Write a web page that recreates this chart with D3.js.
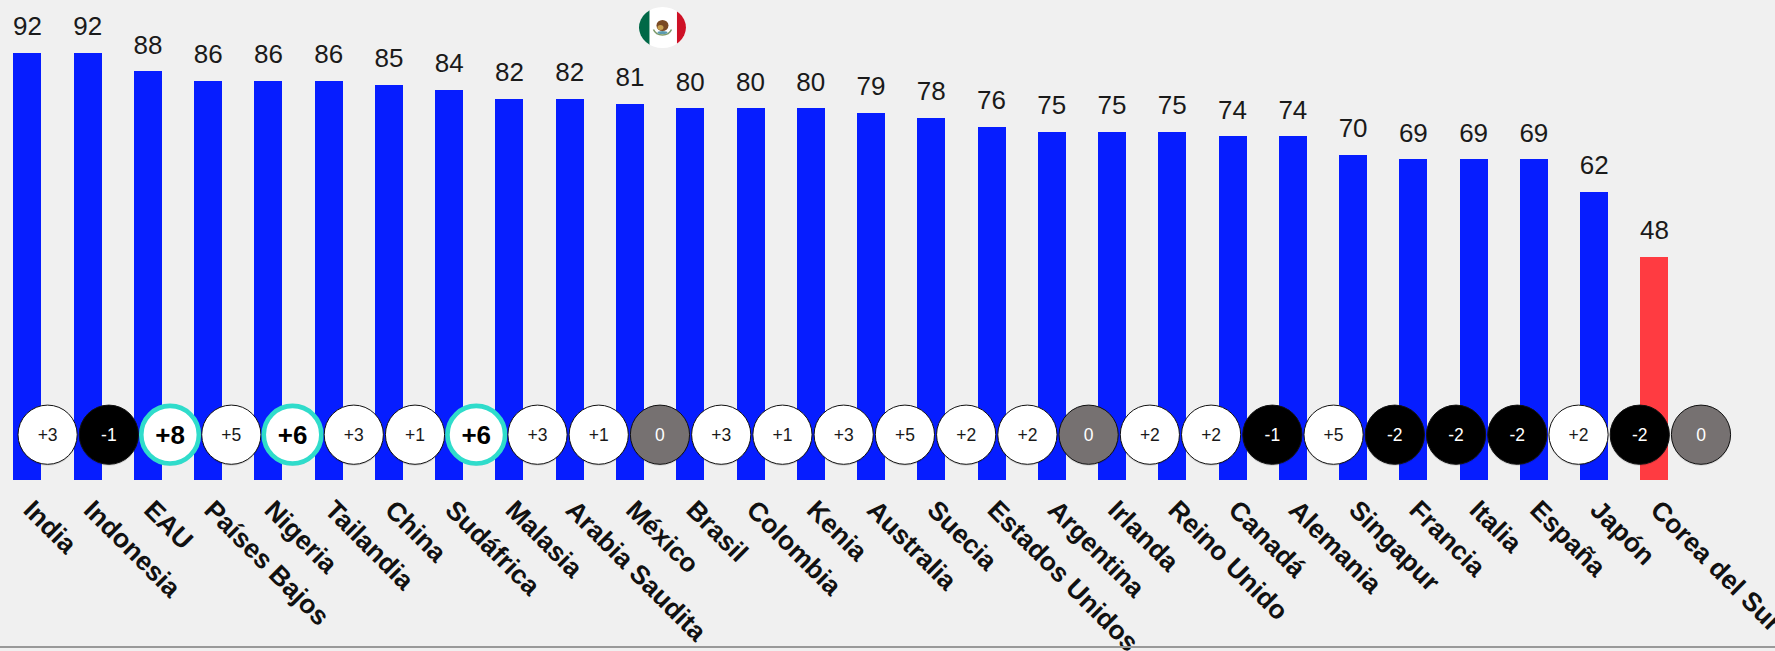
<!DOCTYPE html>
<html>
<head>
<meta charset="utf-8">
<script src="https://cdn.jsdelivr.net/npm/d3@7"></script>
<style>
html, body { margin: 0; padding: 0; background: #f0f0f0; overflow: hidden; }
text { font-family: "Liberation Sans", Arial, sans-serif; }
</style>
</head>
<body>
<div id="chart"></div>
<script>
var countries = ['India', 'Indonesia', 'EAU', 'Países Bajos', 'Nigeria', 'Tailandia', 'China', 'Sudáfrica',
    'Malasia', 'Arabia Saudita', 'México', 'Brasil', 'Colombia', 'Kenia', 'Australia', 'Suecia',
    'Estados Unidos', 'Argentina', 'Irlanda', 'Reino Unido', 'Canadá', 'Alemania', 'Singapur',
    'Francia', 'Italia', 'España', 'Japón', 'Corea del Sur'];
var values = [92, 92, 88, 86, 86, 86, 85, 84, 82, 82, 81, 80, 80, 80, 79, 78, 76, 75, 75, 75, 74, 74, 70, 69, 69, 69, 62, 48];
var changes = [3, -1, 8, 5, 6, 3, 1, 6, 3, 1, 0, 3, 1, 3, 5, 2, 2, 0, 2, 2, -1, 5, -2, -2, -2, 2, -2, 0];
var highlighted = ['EAU', 'Nigeria', 'Sudáfrica'];
var lowest = 'Corea del Sur';
var flagCountry = 'México';

var svgWidth = 1775, svgHeight = 651;
var barWidth = 28;
var baseY = 480;
var circleY = 434.7;

var svg = d3.select('#chart').append('svg')
    .attr('width', svgWidth).attr('height', svgHeight)
    .style('display', 'block');

// bars and circles run on slightly different spacing
var x = d3.scalePoint().domain(countries).range([27.4, 1654.4]);
var xCircle = d3.scalePoint().domain(countries).range([47.6, 1701]);
var y = d3.scaleLinear().domain([0, 92]).range([479.7, 52.7]);

// bars, snapped to whole pixels so the edges stay crisp
svg.append('g').selectAll('rect')
    .data(countries)
    .enter().append('rect')
    .attr('x', function(d) { return Math.round(x(d) - barWidth / 2); })
    .attr('width', barWidth)
    .attr('y', function(d, i) { return Math.round(y(values[i])); })
    .attr('height', function(d, i) { return baseY - Math.round(y(values[i])); })
    .attr('fill', function(d) { return d === lowest ? '#ff3b41' : '#061dff'; });

// value labels
svg.append('g').selectAll('text')
    .data(countries)
    .enter().append('text')
    .attr('x', function(d) { return x(d); })
    .attr('y', function(d, i) { return y(values[i]) - 17.7; })
    .attr('text-anchor', 'middle')
    .attr('font-size', 26)
    .attr('fill', '#1a1a1a')
    .text(function(d, i) { return values[i]; });

// change circles
var badge = svg.append('g').selectAll('g')
    .data(countries)
    .enter().append('g')
    .attr('transform', function(d) { return 'translate(' + xCircle(d) + ' ' + circleY + ')'; });

function isHi(d) { return highlighted.indexOf(d) >= 0; }

badge.append('circle')
    .attr('cy', 1)
    .attr('r', 30)
    .attr('fill', '#000')
    .attr('opacity', 0.12);

badge.append('circle')
    .attr('r', function(d) { return isHi(d) ? 28.8 : 29.6; })
    .attr('fill', function(d, i) {
        if (changes[i] === 0) return '#767171';
        return changes[i] < 0 ? '#000' : '#fff';
    })
    .attr('stroke', function(d) { return isHi(d) ? '#2fdccb' : '#111'; })
    .attr('stroke-width', function(d) { return isHi(d) ? 4.6 : 1; });

badge.append('text')
    .attr('text-anchor', 'middle')
    .attr('y', function(d) { return isHi(d) ? 9.5 : 6.5; })
    .attr('font-size', function(d) { return isHi(d) ? 26 : 17.5; })
    .attr('font-weight', function(d) { return isHi(d) ? 'bold' : 'normal'; })
    .attr('fill', function(d, i) { return changes[i] > 0 ? (isHi(d) ? '#000' : '#1a1a1a') : '#fff'; })
    .text(function(d, i) { return changes[i] > 0 ? '+' + changes[i] : changes[i]; });

// country labels
var xAxis = svg.append('g')
    .attr('transform', 'translate(0 ' + baseY + ')')
    .call(d3.axisBottom(x).tickSize(0));
xAxis.select('.domain').remove();
xAxis.selectAll('text')
    .attr('x', 0)
    .attr('y', 0)
    .attr('dy', 0)
    .attr('text-anchor', 'start')
    .attr('transform', 'translate(-6 31.5) rotate(45)')
    .attr('font-family', '"Liberation Sans", Arial, sans-serif')
    .attr('font-size', 26.5)
    .attr('font-weight', 'bold')
    .attr('fill', '#111');

// flag above the Mexico circle
var flagW = 47, flagH = 41;
var defs = svg.append('defs');
defs.append('clipPath').attr('id', 'flagClip')
    .append('ellipse').attr('rx', flagW / 2).attr('ry', flagH / 2);
var flag = svg.append('g')
    .attr('transform', 'translate(' + (xCircle(flagCountry) + 2.5) + ' 27.5)');
var flagG = flag.append('g').attr('clip-path', 'url(#flagClip)');
flagG.append('rect').attr('x', -flagW / 2).attr('y', -flagH / 2).attr('width', flagW).attr('height', flagH).attr('fill', '#fff');
flagG.append('rect').attr('x', -flagW / 2).attr('y', -flagH / 2).attr('width', 10.5).attr('height', flagH).attr('fill', '#006847');
flagG.append('rect').attr('x', flagW / 2 - 9).attr('y', -flagH / 2).attr('width', 9).attr('height', flagH).attr('fill', '#ce1126');
// coat of arms
flag.append('ellipse').attr('cx', 0).attr('cy', -2).attr('rx', 6).attr('ry', 5.5).attr('fill', '#7a4a24');
flag.append('ellipse').attr('cx', -2).attr('cy', 0).attr('rx', 3).attr('ry', 2.5).attr('fill', '#c8a050');
flag.append('path').attr('d', 'M-9 2 A9.5 8 0 0 0 9 2').attr('fill', 'none').attr('stroke', '#7d9a6a').attr('stroke-width', 1.5);
flag.append('ellipse').attr('cx', 0).attr('cy', 5).attr('rx', 5).attr('ry', 1.5).attr('fill', '#5b9bb0');

// bottom rule
svg.append('line')
    .attr('x1', 0).attr('x2', svgWidth)
    .attr('y1', 647).attr('y2', 647)
    .attr('stroke', '#999')
    .attr('stroke-width', 2);
</script>
</body>
</html>
